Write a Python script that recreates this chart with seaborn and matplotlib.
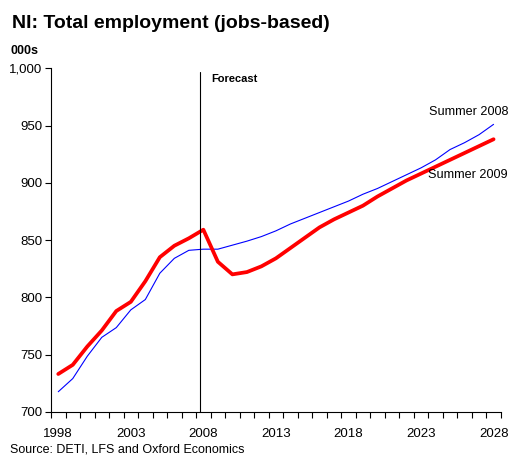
import numpy as np
import pandas as pd
import matplotlib
matplotlib.use("Agg")
import matplotlib.pyplot as plt
import seaborn as sns

years = list(range(1998, 2029))
summer_2008 = [717.5, 729, 748.5, 765, 773.5, 789, 798, 821, 834, 841, 842,
               842, 845.5, 849, 853, 858, 864, 869, 874, 879, 884, 890, 895,
               901, 907, 913, 920, 929, 935, 942, 951]
summer_2009 = [733, 741, 757, 771, 788, 796, 814, 835, 845, 851.5, 859,
               831, 820, 822, 827, 834, 843, 852, 861, 868, 874, 880, 888,
               895, 902, 908, 914, 920, 926, 932, 938]
tick_years = [1998, 2003, 2008, 2013, 2018, 2023, 2028]
y_ticks = [700, 750, 800, 850, 900, 950, 1000]
y_labels = ["700", "750", "800", "850", "900", "950", "1,000"]

sns.set_style("white")
plt.rcParams["font.family"] = ["Liberation Sans", "DejaVu Sans"]
plt.rcParams["text.color"] = "black"
plt.rcParams["xtick.color"] = "black"
plt.rcParams["ytick.color"] = "black"

df = pd.DataFrame({
    "year": years * 2,
    "jobs": summer_2008 + summer_2009,
    "vintage": ["Summer 2008"] * len(years) + ["Summer 2009"] * len(years),
})

fig = plt.figure(figsize=(5.10, 4.55), dpi=100)
ax = fig.add_axes([0.1, 0.095, 0.882, 0.755])

sns.lineplot(data=df[df.vintage == "Summer 2008"], x="year", y="jobs",
             color="#0000FF", linewidth=0.8, ax=ax, legend=False)
sns.lineplot(data=df[df.vintage == "Summer 2009"], x="year", y="jobs",
             color="#FF0000", linewidth=2.7, ax=ax, legend=False)

ax.axvline(2007.75, color="black", linewidth=0.8, ymax=0.99)

ax.set_xlim(1997.5, 2028.5)
ax.set_ylim(700, 1000)
ax.set_yticks(y_ticks)
ax.set_yticklabels(y_labels, fontsize=9.5)
ax.set_xticks(tick_years)
ax.set_xticklabels([str(t) for t in tick_years], fontsize=9.5)
ax.set_xticks(np.arange(1997.5, 2029, 1.0), minor=True)
ax.tick_params(axis="x", which="major", length=0, pad=12)
ax.tick_params(axis="x", which="minor", length=4, width=0.8, color="black",
               direction="out", bottom=True)
ax.tick_params(axis="y", which="major", length=4, width=0.8, color="black",
               direction="out", left=True, pad=2)
ax.set_xlabel("")
ax.set_ylabel("")

for side in ("top", "right"):
    ax.spines[side].set_visible(False)
for side in ("left", "bottom"):
    ax.spines[side].set_color("black")
    ax.spines[side].set_linewidth(0.8)

ax.text(2008.55, 990.5, "Forecast", fontsize=8, fontweight="bold",
        va="center")
ax.text(2029.0, 962, "Summer 2008", fontsize=9.1, ha="right", va="center",
        clip_on=False)
ax.text(2029.0, 907, "Summer 2009", fontsize=9.1, ha="right", va="center",
        clip_on=False)

fig.text(0.023, 0.948, "NI: Total employment (jobs-based)", fontsize=14,
         fontweight="bold", va="center")
fig.text(0.02, 0.888, "000s", fontsize=9, fontweight="bold", va="center")
fig.text(0.02, 0.011, "Source: DETI, LFS and Oxford Economics", fontsize=9,
         va="center")

fig.savefig("out.png", dpi=100)
